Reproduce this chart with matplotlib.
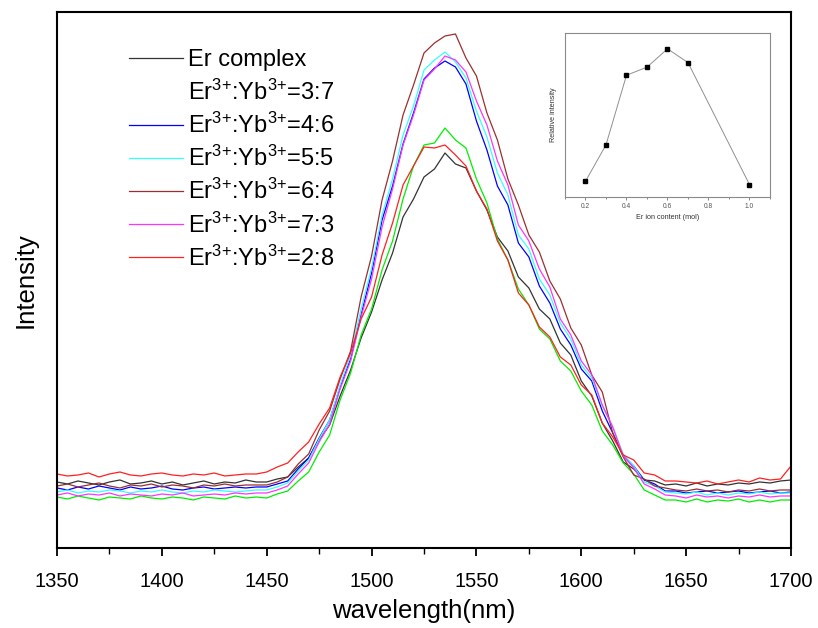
import matplotlib
matplotlib.use('Agg')
import matplotlib.pyplot as plt
from matplotlib.ticker import MultipleLocator

plt.rcParams['font.family'] = ['Liberation Sans', 'DejaVu Sans']
plt.rcParams['mathtext.fontset'] = 'custom'
plt.rcParams['mathtext.rm'] = 'Liberation Sans'
plt.rcParams['mathtext.it'] = 'Liberation Sans'

# wavelength grid, 1350..1700 nm in 5 nm steps
wavelength = list(range(1350, 1701, 5))

er_complex = [66, 64, 67, 65, 63, 66, 68, 64, 65, 67, 64, 66, 63, 65, 67, 64, 66, 65, 68, 66,
              66, 69, 71, 81, 90, 108, 123, 152, 178, 210, 236, 268, 295, 331, 349, 371, 379, 395, 384, 380,
              357, 338, 311, 297, 271, 260, 239, 229, 205, 193, 167, 152, 125, 107, 86, 79, 68, 67, 63,
              64, 62, 65, 62, 64, 63, 65, 64, 66, 65, 67, 68]
r37 = [51, 49, 52, 50, 48, 51, 50, 49, 52, 50, 49, 51, 50, 48, 51, 50, 49, 52, 50, 51,
       50, 54, 57, 67, 76, 96, 113, 148, 175, 213, 239, 278, 307, 349, 382, 403, 405, 420, 408, 400,
       369, 345, 309, 288, 259, 243, 219, 209, 187, 177, 157, 143, 117, 103, 85, 74, 58, 53, 48,
       48, 46, 49, 46, 48, 47, 49, 46, 48, 46, 48, 48]
r46 = [60, 58, 61, 59, 62, 60, 58, 61, 59, 60, 62, 59, 58, 60, 61, 59, 60, 61, 60, 61,
       61, 64, 67, 79, 90, 110, 128, 161, 189, 233, 275, 328, 362, 404, 435, 469, 480, 487, 481, 464,
       427, 398, 362, 343, 305, 291, 262, 245, 219, 203, 179, 167, 137, 115, 92, 82, 68, 64, 57,
       57, 55, 56, 57, 55, 56, 57, 55, 56, 57, 55, 56]
r55 = [56, 58, 55, 57, 56, 58, 57, 55, 57, 56, 58, 56, 55, 57, 56, 58, 57, 56, 57, 58,
       58, 61, 65, 77, 88, 109, 128, 163, 193, 239, 280, 333, 369, 413, 442, 478, 488, 496, 486, 470,
       437, 411, 375, 353, 313, 299, 269, 253, 225, 209, 183, 170, 142, 121, 94, 82, 66, 62, 56,
       55, 54, 56, 53, 55, 53, 55, 54, 56, 54, 55, 55]
r64 = [62, 64, 61, 63, 65, 62, 60, 63, 62, 64, 61, 63, 62, 60, 63, 62, 64, 62, 63, 63,
       63, 66, 71, 84, 94, 118, 137, 169, 197, 251, 292, 348, 387, 433, 463, 495, 505, 512, 514, 490,
       472, 435, 408, 369, 343, 313, 296, 267, 249, 220, 203, 173, 156, 115, 91, 73, 69, 62, 60,
       58, 57, 59, 57, 58, 56, 58, 57, 59, 57, 58, 58]
r73 = [53, 55, 52, 54, 53, 55, 52, 54, 53, 52, 54, 53, 55, 52, 53, 54, 53, 55, 54, 55,
       55, 58, 62, 74, 85, 106, 124, 159, 187, 231, 269, 321, 359, 403, 433, 468, 479, 492, 488, 476,
       447, 423, 387, 363, 323, 307, 279, 261, 229, 213, 187, 173, 143, 121, 92, 80, 64, 59, 53,
       52, 50, 53, 51, 52, 50, 52, 51, 53, 51, 52, 52]
r28 = [74, 72, 73, 75, 71, 74, 76, 73, 72, 74, 75, 73, 72, 74, 73, 75, 72, 73, 74, 74,
       76, 81, 85, 96, 106, 124, 140, 171, 195, 229, 251, 293, 325, 363, 382, 401, 400, 403, 393, 382,
       357, 339, 307, 288, 255, 243, 221, 211, 191, 183, 163, 153, 125, 111, 93, 88, 75, 73, 67,
       67, 66, 65, 67, 64, 66, 68, 66, 70, 68, 69, 82]

series = [er_complex, r37, r46, r55, r64, r73, r28]
sup = r'$^{3{+}}$'
labels = ['Er complex',
          'Er' + sup + ':Yb' + sup + '=3:7',
          'Er' + sup + ':Yb' + sup + '=4:6',
          'Er' + sup + ':Yb' + sup + '=5:5',
          'Er' + sup + ':Yb' + sup + '=6:4',
          'Er' + sup + ':Yb' + sup + '=7:3',
          'Er' + sup + ':Yb' + sup + '=2:8']
colors = ['#333333', '#00ee00', '#0000ff', '#33ffff', '#9b2f2f', '#ff33ff', '#ff2020']

# inset data
er_content = [0.2, 0.3, 0.4, 0.5, 0.6, 0.7, 1.0]
rel_intensity = [0.096, 0.318, 0.743, 0.792, 0.904, 0.820, 0.076]

fig = plt.figure(figsize=(8.18, 6.28), dpi=100)
ax = fig.add_axes([0.0697, 0.1274, 0.8973, 0.8535])

for y, lab, c in zip(series, labels, colors):
    ax.plot(wavelength, y, color=c, linewidth=0.9, label=lab)

ax.set_xlim(1350, 1700)
ax.set_ylim(0, 536)
ax.xaxis.set_major_locator(MultipleLocator(50))
ax.xaxis.set_minor_locator(MultipleLocator(25))
ax.set_yticks([])
ax.tick_params(axis='x', which='major', direction='out', length=6, width=1.3, labelsize=14.5, pad=11)
ax.tick_params(axis='x', which='minor', direction='out', length=4, width=1.0)
for s in ax.spines.values():
    s.set_linewidth(1.5)
ax.set_xlabel('wavelength(nm)', fontsize=18.5, labelpad=6)
ax.set_ylabel('Intensity', fontsize=18.5, labelpad=14)

leg = ax.legend(loc='upper left', bbox_to_anchor=(0.085, 0.948), frameon=False,
                fontsize=17, handlelength=2.3, handletextpad=0.2, labelspacing=0.34,
                borderaxespad=0)
leg.get_lines()[1].set_visible(False)

# inset
ins = fig.add_axes([0.6907, 0.6863, 0.2506, 0.261])
ins.plot(er_content, rel_intensity, color='#909090', linewidth=0.7,
         marker='s', markersize=2.6, markerfacecolor='black', markeredgecolor='black')
ins.set_xlim(0.1, 1.1)
ins.set_ylim(0, 1)
ins.xaxis.set_major_locator(MultipleLocator(0.2))
ins.xaxis.set_minor_locator(MultipleLocator(0.1))
ins.set_yticks([])
ins.tick_params(axis='x', which='major', direction='out', length=2, width=0.5, labelsize=4.8,
                pad=2, colors='#555555')
ins.tick_params(axis='x', which='minor', direction='out', length=1.2, width=0.5, colors='#555555')
for s in ins.spines.values():
    s.set_linewidth(0.8)
    s.set_color('#8a8a8a')
ins.set_xlabel('Er ion content (mol)', fontsize=5.2, labelpad=3, color='#333333')
ins.set_ylabel('Relative intensity', fontsize=5.2, labelpad=6, color='#333333')

fig.savefig('out.png', dpi=100)
